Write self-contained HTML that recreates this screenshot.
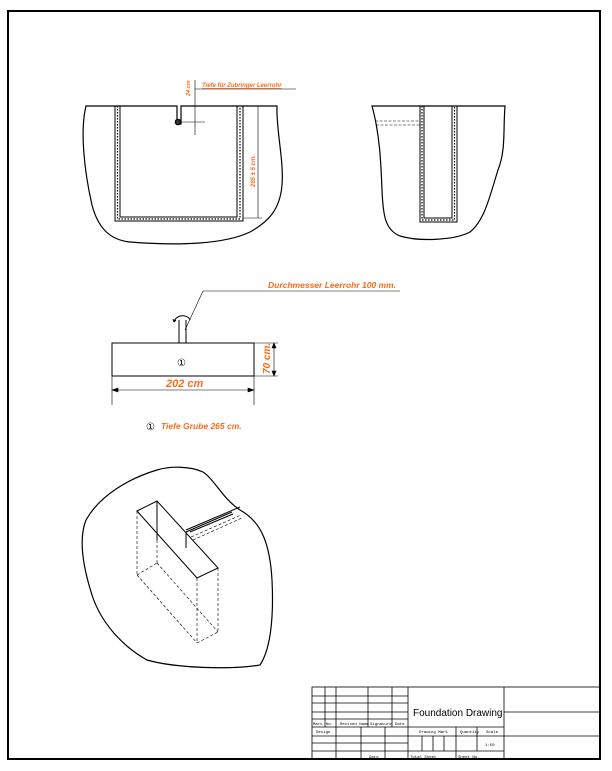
<!DOCTYPE html>
<html><head><meta charset="utf-8"><style>
html,body{margin:0;padding:0;background:#fff;width:612px;height:771px;overflow:hidden}
svg{display:block}
.o{fill:#ff6a1a;font-family:"Liberation Sans",sans-serif;font-weight:bold;font-style:italic}
.t{font-family:"Liberation Sans",sans-serif;fill:#000}
.s{font-family:"Liberation Mono",monospace;font-size:4px;fill:#000}
</style></head><body>
<svg width="612" height="771" viewBox="0 0 612 771" xmlns="http://www.w3.org/2000/svg">
<rect x="8" y="11" width="592" height="748" fill="none" stroke="#000" stroke-width="2"/>

<!-- Drawing 1 -->
<path d="M86,106 L177,106 L177,124 L181,124 L181,106 L277,106 C276,130 284,160 282,185 C280,210 268,222 250,232 C225,244 180,246 130,242 C110,240 98,228 92,205 C84,170 80,130 86,106 Z" fill="none" stroke="#000" stroke-width="1.2"/>
<g fill="none" stroke="#000" stroke-width="1">
<path d="M115,106 V221 H243 V106"/><path d="M120,106 V217 H237 V106"/>
</g>
<g fill="none" stroke="#000" stroke-width="1.2" stroke-dasharray="1.5,1.5">
<path d="M117.5,106 V219 H240 V106"/>
</g>
<circle cx="178" cy="122" r="2.8" fill="#333" stroke="#000"/>
<g stroke="#000" stroke-width="0.6" fill="none">
<line x1="195" y1="80" x2="195" y2="135"/><line x1="181" y1="122" x2="205" y2="122"/>
<line x1="195" y1="89" x2="296" y2="89"/>
<line x1="258" y1="106" x2="258" y2="218"/><line x1="243" y1="218" x2="262" y2="218"/><line x1="243" y1="106" x2="262" y2="106"/>
</g>
<text class="o" font-size="6" x="202" y="87" text-decoration="underline">Tiefe für Zubringer Leerrohr</text>
<text class="o" font-size="5.5" transform="translate(190,96) rotate(-90)">24 cm</text>
<text class="o" font-size="6" transform="translate(255,187) rotate(-90)">265 ± 5 cm.</text>

<!-- Drawing 2 -->
<path d="M372,106 L505,106 C503,130 506,150 498,170 C490,195 485,220 470,232 C455,240 420,242 400,236 C385,230 383,215 382,190 C381,165 380,135 372,106 Z" fill="none" stroke="#000" stroke-width="1.2"/>
<g fill="none" stroke="#000" stroke-width="1">
<path d="M420,106 V222 H457 V106"/><path d="M424,106 V218 H452 V106"/>
</g>
<g fill="none" stroke="#000" stroke-width="1.2" stroke-dasharray="1.5,1.5">
<path d="M422,106 V220 H454.5 V106"/>
</g>
<g stroke="#000" stroke-width="0.6" stroke-dasharray="3,1.5">
<line x1="375" y1="121" x2="420" y2="121"/><line x1="376" y1="125" x2="420" y2="125"/>
</g>

<!-- Drawing 3 -->
<rect x="112" y="343" width="142" height="33" fill="none" stroke="#000" stroke-width="1"/>
<g stroke="#000" stroke-width="1" fill="none">
<line x1="179" y1="320" x2="179" y2="343"/><line x1="186" y1="320" x2="186" y2="343"/>
<path d="M174,322 C176,314 188,314 190,320"/><path d="M174,322 l-1,-3 M174,322 l2,-2"/>
</g>
<g stroke="#000" stroke-width="0.6" fill="none">
<path d="M185,330 L203,291 L400,291"/>
<line x1="254" y1="343" x2="278" y2="343"/><line x1="254" y1="376" x2="278" y2="376"/>
<line x1="274" y1="343" x2="274" y2="376"/>
<line x1="112" y1="376" x2="112" y2="405"/><line x1="254" y1="376" x2="254" y2="405"/>
<line x1="112" y1="390" x2="254" y2="390"/>
<path d="M112,390 l6,-2 v4 z M254,390 l-6,-2 v4 z M274,343 l-2,5 h4 z M274,376 l-2,-5 h4 z" fill="#000"/>
</g>
<text class="o" font-size="8.5" x="268" y="288">Durchmesser Leerrohr 100 mm.</text>
<text class="o" font-size="10" transform="translate(270,374) rotate(-90)">70 cm.</text>
<text class="o" font-size="11" x="166" y="387">202 cm</text>
<text class="t" font-size="10" x="177" y="366">①</text>
<text class="t" font-size="10" x="146" y="430">①</text>
<text class="o" font-size="8.5" x="161" y="429">Tiefe Grube 265 cm.</text>

<!-- Drawing 4 -->
<path d="M157,470 C170,466 190,466 203,472 C215,480 222,498 240,510 C262,522 270,545 272,580 C274,620 270,650 260,665 C230,670 175,668 147,660 C120,645 100,620 92,595 C84,570 78,540 86,520 C100,495 130,478 157,470 Z" fill="none" stroke="#000" stroke-width="1.2"/>
<g stroke="#000" stroke-width="1" fill="none">
<path d="M137,511 L157,501 L218,568 L197,578 Z"/>
<line x1="157" y1="501" x2="157" y2="540"/>
<path d="M186,532 L232,512 M186,532 L186,548 M190,532 L233,514 M186,530 L240,507"/>
</g>
<g stroke="#000" stroke-width="0.6" fill="none" stroke-dasharray="3,2">
<line x1="137" y1="511" x2="137" y2="575"/><line x1="197" y1="578" x2="197" y2="643"/><line x1="218" y1="568" x2="218" y2="632"/>
<line x1="197" y1="643" x2="218" y2="632"/><line x1="137" y1="575" x2="157" y2="563"/>
<line x1="157" y1="563" x2="218" y2="632"/><line x1="137" y1="575" x2="197" y2="643"/>
<line x1="157" y1="540" x2="157" y2="563"/>
<line x1="191" y1="537" x2="241" y2="515"/><line x1="193" y1="540" x2="242" y2="518"/>
</g>

<!-- Title block -->
<g stroke="#000" stroke-width="0.8" fill="none">
<rect x="312" y="687" width="288" height="72"/>
<line x1="408" y1="687" x2="408" y2="759"/><line x1="504" y1="687" x2="504" y2="759"/>
<line x1="504" y1="712" x2="600" y2="712"/><line x1="504" y1="736" x2="600" y2="736"/>
<line x1="312" y1="696" x2="408" y2="696"/><line x1="312" y1="703" x2="408" y2="703"/>
<line x1="312" y1="712" x2="408" y2="712"/><line x1="312" y1="719" x2="408" y2="719"/>
<line x1="312" y1="727" x2="504" y2="727"/>
<line x1="325" y1="687" x2="325" y2="727"/><line x1="336" y1="687" x2="336" y2="759"/>
<line x1="368" y1="687" x2="368" y2="727"/><line x1="392" y1="687" x2="392" y2="727"/>
<line x1="361" y1="727" x2="361" y2="759"/><line x1="385" y1="727" x2="385" y2="759"/>
<line x1="312" y1="736" x2="504" y2="736"/><line x1="312" y1="743" x2="408" y2="743"/>
<line x1="312" y1="751" x2="504" y2="751"/>
<line x1="456" y1="727" x2="456" y2="759"/><line x1="477" y1="727" x2="477" y2="751"/>
<line x1="422" y1="736" x2="422" y2="751"/><line x1="433" y1="736" x2="433" y2="751"/><line x1="444" y1="736" x2="444" y2="751"/>
</g>
<text class="t" font-size="10" x="413" y="716">Foundation Drawing</text>
<text class="s" x="313" y="725">Mark</text><text class="s" x="326" y="725">No.</text>
<text class="s" x="340" y="725">Revised Name</text><text class="s" x="370" y="725">Signature</text><text class="s" x="395" y="725">Date</text>
<text class="s" x="316" y="733">Design</text>
<text class="s" x="419" y="733">Drawing Mark</text><text class="s" x="460" y="733">Quantity</text><text class="s" x="486" y="733">Scale</text>
<text class="s" x="485" y="746">1:50</text>
<text class="s" x="369" y="758">Date</text><text class="s" x="410" y="758">Total Sheet</text><text class="s" x="458" y="758">Sheet No.</text>
</svg>
</body></html>
